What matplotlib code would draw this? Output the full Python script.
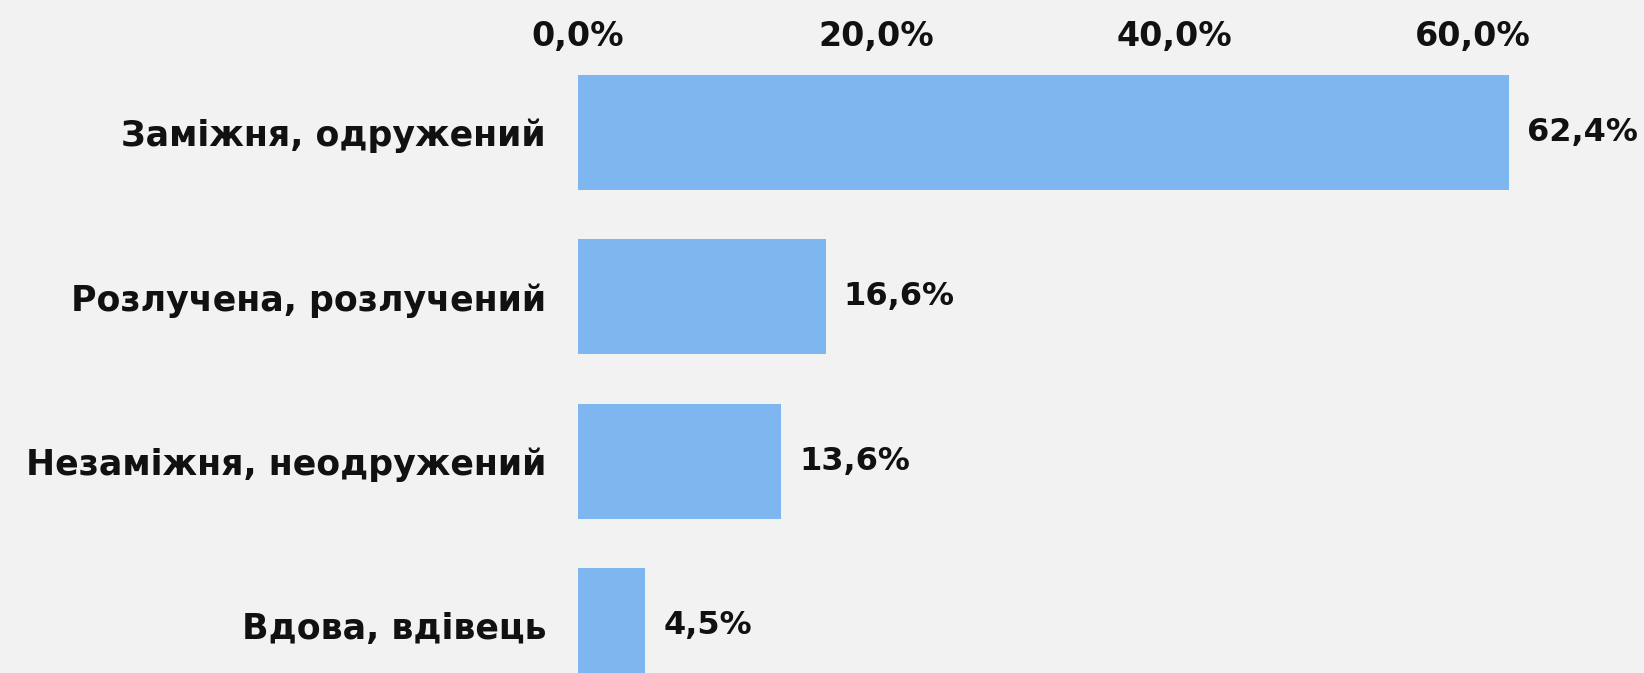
import matplotlib
matplotlib.use("Agg")
import matplotlib.pyplot as plt
from matplotlib.ticker import FixedLocator, FuncFormatter

categories = ["Заміжня, одружений", "Розлучена, розлучений", "Незаміжня, неодружений", "Вдова, вдівець"]
values = [62.4, 16.6, 13.6, 4.5]
xticks = [0, 20, 40, 60]

BG = "#f2f2f2"
BAR = "#7eb6f0"
TXT = "#111111"
FONT = ["DejaVu Sans"]

W, H = 1644, 673
fig = plt.figure(figsize=(W / 100, H / 100), dpi=100, facecolor=BG)
left_px, top_px = 578, 60
ax = fig.add_axes([left_px / W, 0, 1 - left_px / W, 1 - top_px / H])
ax.set_facecolor(BG)

px_per_pct = 14.92
px_per_cat = 164.33
c0 = 132.5
ax.set_xlim(0, (W - left_px) / px_per_pct)
ax.set_ylim((H - c0) / px_per_cat, -(c0 - top_px) / px_per_cat)

ypos = list(range(len(categories)))
ax.barh(ypos, values, height=0.70, color=BAR, edgecolor="none")

for y, v in zip(ypos, values):
    ax.annotate(f"{v:.1f}%".replace(".", ","), (v, y), xytext=(18, 0),
                textcoords="offset pixels", va="center", ha="left",
                fontsize=23, fontweight="bold", family=FONT, color=TXT)

ax.set_yticks(ypos)
ax.set_yticklabels(categories, fontsize=25, fontweight="bold", family=FONT, color=TXT)
ax.tick_params(axis="y", length=0, pad=23)

ax.xaxis.tick_top()
ax.xaxis.set_major_locator(FixedLocator(xticks))
ax.xaxis.set_major_formatter(FuncFormatter(lambda x, p: f"{x:.1f}%".replace(".", ",")))
for lab in ax.get_xticklabels():
    lab.set_fontsize(24)
    lab.set_fontweight("bold")
    lab.set_family(FONT)
    lab.set_color(TXT)
ax.tick_params(axis="x", length=0, pad=5)

for s in ax.spines.values():
    s.set_visible(False)

fig.savefig("out.png", dpi=100, facecolor=BG)
